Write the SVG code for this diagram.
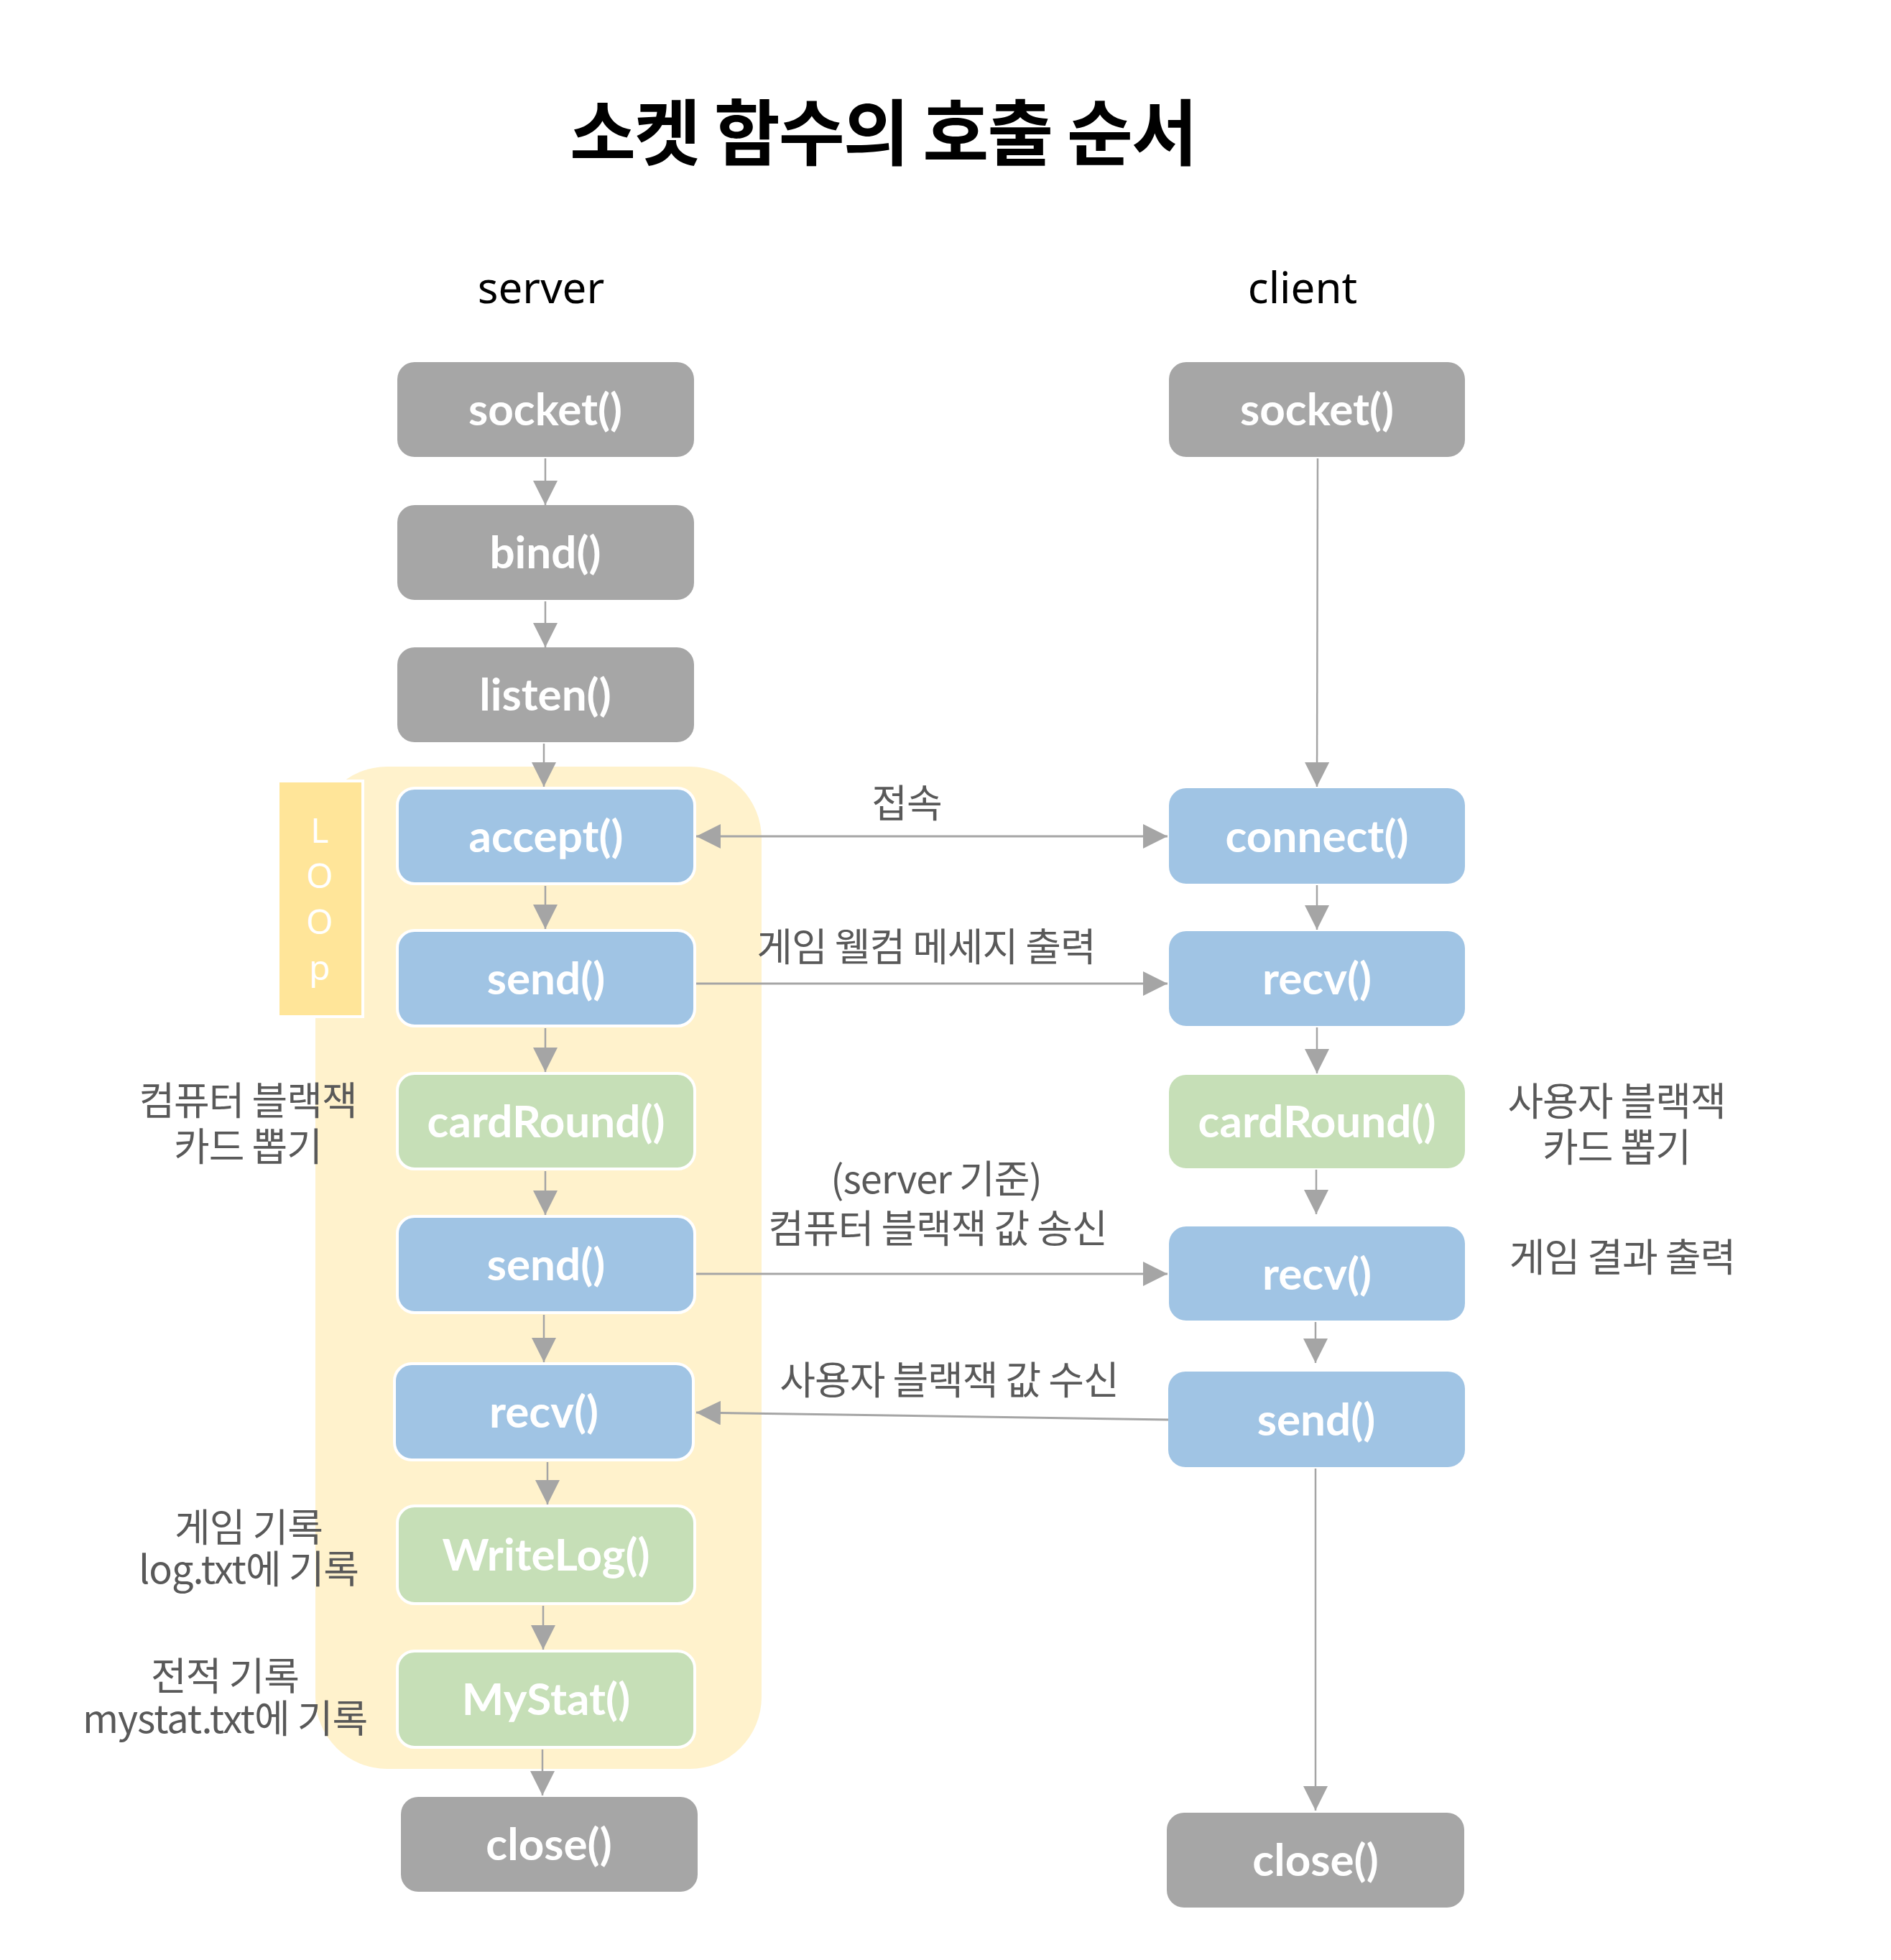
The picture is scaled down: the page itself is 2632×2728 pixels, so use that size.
<svg xmlns="http://www.w3.org/2000/svg" width="2632" height="2728" viewBox="0 0 2632 2728">
<defs>
<style>
.bg{fill:#FFFFFF}
.gray{fill:#A6A6A6}
.blue{fill:#A0C4E4}
.green{fill:#C6DFB7}
.w{stroke:#FFFFFF;stroke-width:4}
.nt{font-family:Lato,"Noto Sans","Noto Sans CJK KR",sans-serif;font-weight:700;font-size:62px;fill:#FFFFFF;text-anchor:middle}
.lbl{font-family:"Noto Sans CJK KR","Noto Sans",sans-serif;font-size:54px;fill:#595959;text-anchor:middle;letter-spacing:-1px}
.hdr{font-family:"Noto Sans","Noto Sans CJK KR",sans-serif;font-size:60px;fill:#000000;text-anchor:middle}
.title{font-family:"Noto Sans CJK KR",sans-serif;font-weight:700;font-size:100px;fill:#000000;text-anchor:middle;letter-spacing:-2px}
.loopt{font-family:"Noto Sans",sans-serif;font-size:48px;fill:#FFFFFF;text-anchor:middle}
.c{fill:none;stroke:#A5A5A5;stroke-width:2.5}
.ch{fill:none;stroke:#A5A5A5;stroke-width:3}
</style>
<marker id="ah" markerUnits="userSpaceOnUse" markerWidth="34" markerHeight="34" viewBox="0 0 32 32" refX="32" refY="16" orient="auto-start-reverse">
<path d="M0,0 L32,16 L0,32 Z" fill="#A5A5A5"/>
</marker>
</defs>
<rect class="bg" x="0" y="0" width="2632" height="2728"/>

<g id="title"><text class="title" x="1229" y="222">소켓 함수의 호출 순서</text></g>
<g id="header-server"><text class="hdr" x="753" y="422">server</text></g>
<g id="header-client"><text class="hdr" x="1813" y="422">client</text></g>

<g id="loop-area"><rect x="439" y="1067" width="621" height="1395" rx="100" ry="100" fill="#FFF2CC"/></g>
<g id="loop-label">
<rect x="387" y="1087" width="118" height="328" fill="#FFE599" stroke="#FFFFFF" stroke-width="4"/>
<text class="loopt" x="445" y="1173">L</text>
<text class="loopt" x="445" y="1236">O</text>
<text class="loopt" x="445" y="1300">O</text>
<text class="loopt" x="445" y="1364">p</text>
</g>

<g id="connectors">
<line class="c" x1="759" y1="638" x2="759" y2="703" marker-end="url(#ah)"/>
<line class="c" x1="759" y1="837" x2="759" y2="901" marker-end="url(#ah)"/>
<line class="c" x1="757" y1="1035" x2="757" y2="1095" marker-end="url(#ah)"/>
<line class="c" x1="759" y1="1233" x2="759" y2="1293" marker-end="url(#ah)"/>
<line class="c" x1="759" y1="1431" x2="759" y2="1492" marker-end="url(#ah)"/>
<line class="c" x1="759" y1="1630" x2="759" y2="1691" marker-end="url(#ah)"/>
<line class="c" x1="757" y1="1830" x2="757" y2="1896" marker-end="url(#ah)"/>
<line class="c" x1="762" y1="2035" x2="762" y2="2094" marker-end="url(#ah)"/>
<line class="c" x1="756" y1="2235" x2="756" y2="2296" marker-end="url(#ah)"/>
<line class="c" x1="755" y1="2435" x2="755" y2="2499" marker-end="url(#ah)"/>
<line class="c" x1="1834" y1="638" x2="1833" y2="1095" marker-end="url(#ah)"/>
<line class="c" x1="1833" y1="1232" x2="1833" y2="1294" marker-end="url(#ah)"/>
<line class="c" x1="1833" y1="1430" x2="1833" y2="1494" marker-end="url(#ah)"/>
<line class="c" x1="1832" y1="1628" x2="1832" y2="1690" marker-end="url(#ah)"/>
<line class="c" x1="1831" y1="1840" x2="1831" y2="1897" marker-end="url(#ah)"/>
<line class="c" x1="1831" y1="2044" x2="1831" y2="2520" marker-end="url(#ah)"/>
<line class="ch" x1="969" y1="1164" x2="1625" y2="1164" marker-start="url(#ah)" marker-end="url(#ah)"/>
<line class="ch" x1="969" y1="1369" x2="1625" y2="1369" marker-end="url(#ah)"/>
<line class="ch" x1="969" y1="1773" x2="1625" y2="1773" marker-end="url(#ah)"/>
<line class="ch" x1="1626" y1="1976" x2="969" y2="1966" marker-end="url(#ah)"/>
</g>

<g id="edge-labels">
<text class="lbl" x="1262" y="1138">접속</text>
<text class="lbl" x="1289" y="1338">게임 웰컴 메세지 출력</text>
<text class="lbl"><tspan x="1303" y="1661">(server 기준)</tspan><tspan x="1305" y="1730">컴퓨터 블랙잭 값 송신</tspan></text>
<text class="lbl" x="1321" y="1941">사용자 블랙잭 값 수신</text>
</g>

<g id="note-server-card">
<text class="lbl"><tspan x="345" y="1552">컴퓨터 블랙잭</tspan><tspan x="345" y="1616">카드 뽑기</tspan></text>
</g>
<g id="note-writelog">
<text class="lbl"><tspan x="346" y="2146">게임 기록</tspan><tspan x="346" y="2204">log.txt에 기록</tspan></text>
</g>
<g id="note-mystat">
<text class="lbl"><tspan x="313" y="2353">전적 기록</tspan><tspan x="313" y="2412">mystat.txt에 기록</tspan></text>
</g>
<g id="note-client-card">
<text class="lbl"><tspan x="2250" y="1553">사용자 블랙잭</tspan><tspan x="2250" y="1617">카드 뽑기</tspan></text>
</g>
<g id="note-client-result">
<text class="lbl" x="2258" y="1770">게임 결과 출력</text>
</g>

<g id="s-socket"><rect class="gray" x="553" y="504" width="413" height="132" rx="24"/><text class="nt" x="759" y="592">socket()</text></g>
<g id="s-bind"><rect class="gray" x="553" y="703" width="413" height="132" rx="24"/><text class="nt" x="759" y="791">bind()</text></g>
<g id="s-listen"><rect class="gray" x="553" y="901" width="413" height="132" rx="24"/><text class="nt" x="759" y="989">listen()</text></g>
<g id="s-accept"><rect class="blue w" x="553" y="1097" width="414" height="133" rx="24"/><text class="nt" x="760" y="1186">accept()</text></g>
<g id="s-send1"><rect class="blue w" x="553" y="1295" width="414" height="133" rx="24"/><text class="nt" x="760" y="1384">send()</text></g>
<g id="s-cardround"><rect class="green w" x="553" y="1494" width="414" height="133" rx="24"/><text class="nt" x="760" y="1583">cardRound()</text></g>
<g id="s-send2"><rect class="blue w" x="553" y="1693" width="414" height="134" rx="24"/><text class="nt" x="760" y="1782">send()</text></g>
<g id="s-recv"><rect class="blue w" x="549" y="1898" width="416" height="134" rx="24"/><text class="nt" x="757" y="1987">recv()</text></g>
<g id="s-writelog"><rect class="green w" x="553" y="2096" width="414" height="136" rx="24"/><text class="nt" x="760" y="2186">WriteLog()</text></g>
<g id="s-mystat"><rect class="green w" x="553" y="2298" width="414" height="134" rx="24"/><text class="nt" x="760" y="2387">MyStat()</text></g>
<g id="s-close"><rect class="gray" x="558" y="2501" width="413" height="132" rx="24"/><text class="nt" x="764" y="2589">close()</text></g>

<g id="c-socket"><rect class="gray" x="1627" y="504" width="412" height="132" rx="24"/><text class="nt" x="1833" y="592">socket()</text></g>
<g id="c-connect"><rect class="blue" x="1627" y="1097" width="412" height="133" rx="24"/><text class="nt" x="1833" y="1186">connect()</text></g>
<g id="c-recv1"><rect class="blue" x="1627" y="1296" width="412" height="132" rx="24"/><text class="nt" x="1833" y="1384">recv()</text></g>
<g id="c-cardround"><rect class="green" x="1627" y="1496" width="412" height="130" rx="24"/><text class="nt" x="1833" y="1583">cardRound()</text></g>
<g id="c-recv2"><rect class="blue" x="1627" y="1707" width="412" height="131" rx="24"/><text class="nt" x="1833" y="1795">recv()</text></g>
<g id="c-send"><rect class="blue" x="1626" y="1909" width="413" height="133" rx="24"/><text class="nt" x="1832" y="1998">send()</text></g>
<g id="c-close"><rect class="gray" x="1624" y="2523" width="414" height="132" rx="24"/><text class="nt" x="1831" y="2611">close()</text></g>
</svg>
